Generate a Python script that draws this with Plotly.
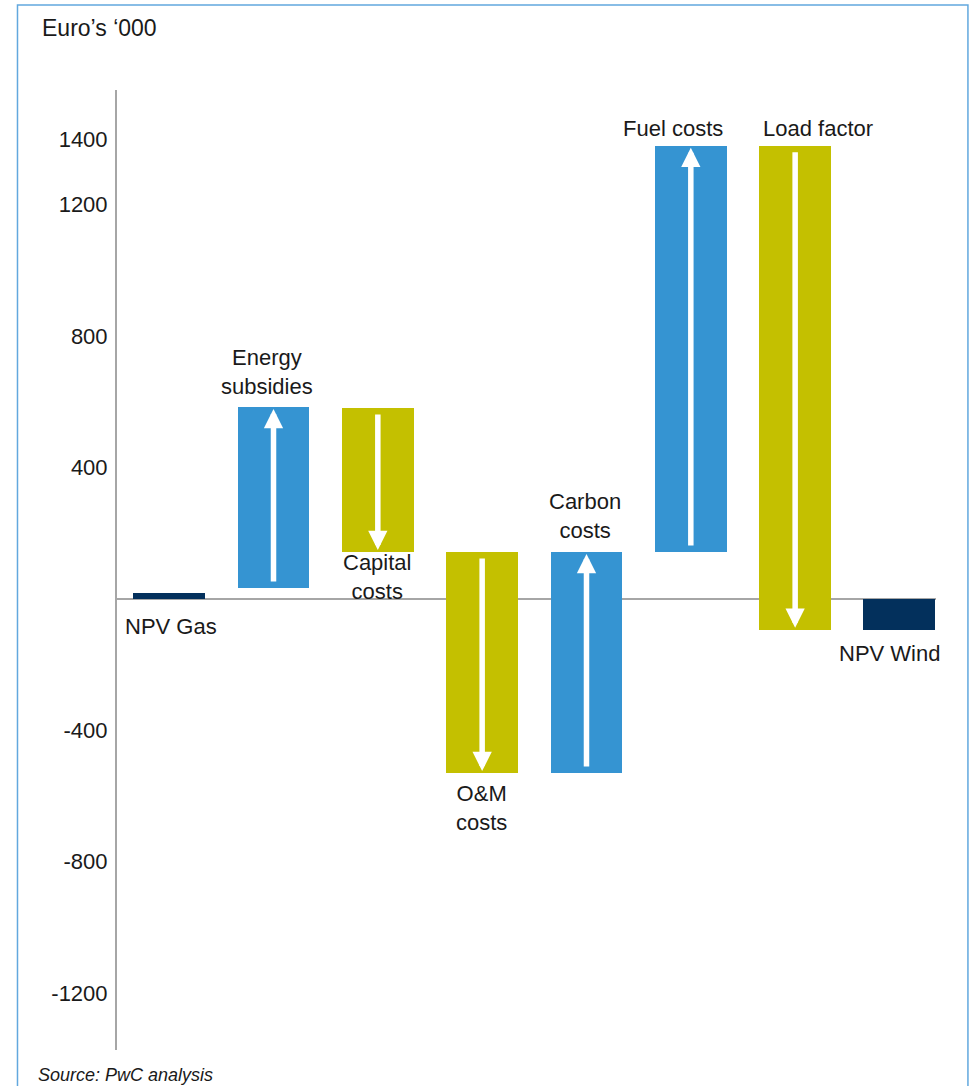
import plotly.graph_objects as go

# ---- data ----
categories = ["NPV Gas", "Energy subsidies", "Capital costs", "O&M costs",
              "Carbon costs", "Fuel costs", "Load factor", "NPV Wind"]
bar_start = [0, 33, 581, 143, -530, 143, 1379, 0]      # where each bar / arrow starts
bar_end = [18, 584, 143, -530, 143, 1379, -94, -94]    # where each bar / arrow ends
bar_kind = ["npv", "up", "down", "down", "up", "up", "down", "npv"]
tick_values = [1400, 1200, 800, 400, -400, -800, -1200]
tick_labels = ["1400", "1200", "800", "400", "-400", "-800", "-1200"]
label_texts = ["NPV Gas", "Energy<br>subsidies", "Capital<br>costs", "O&M<br>costs",
               "Carbon<br>costs", "Fuel costs", "Load factor", "NPV Wind"]

colors = {"npv": "#03305C", "up": "#3594D2", "down": "#C4C000"}
FONT = "Liberation Sans, Arial, Helvetica, sans-serif"
TXT = "#1a1a1a"

xs = list(range(len(categories)))
bases = [min(a, b) for a, b in zip(bar_start, bar_end)]
heights = [abs(b - a) for a, b in zip(bar_start, bar_end)]

fig = go.Figure()
fig.add_trace(go.Bar(
    x=xs, y=heights, base=bases, width=0.69,
    marker=dict(color=[colors[k] for k in bar_kind], line=dict(width=0)),
    hovertext=categories, showlegend=False,
))

annotations = []
# white arrows inside the change bars
for i, (s, e, k) in enumerate(zip(bar_start, bar_end, bar_kind)):
    if k == "npv":
        continue
    annotations.append(dict(
        x=i, y=e, ax=i, ay=s, xref="x", yref="y", axref="x", ayref="y",
        showarrow=True, arrowhead=2, arrowsize=0.7, arrowwidth=5.5,
        arrowcolor="white", standoff=2, startstandoff=5, text="",
    ))

# category labels
label_pos = [(0.02, -85), (0.94, 692), (1.99, 67), (2.99, -636),
             (3.99, 251), (4.83, 1431), (6.22, 1431), (6.9, -167)]
for (lx, ly), t in zip(label_pos, label_texts):
    annotations.append(dict(
        x=lx, y=ly, xref="x", yref="y", text=t, showarrow=False,
        xanchor="center", yanchor="middle", align="center",
        font=dict(family=FONT, size=22, color=TXT),
    ))

# unit label & source
annotations.append(dict(
    x=-0.094, y=1.0645, xref="paper", yref="paper", xanchor="left", yanchor="middle",
    text="Euro’s ‘000", showarrow=False, font=dict(family=FONT, size=23, color=TXT),
))
annotations.append(dict(
    x=-0.0995, y=-0.026, xref="paper", yref="paper", xanchor="left", yanchor="middle",
    text="<i>Source: PwC analysis</i>", showarrow=False,
    font=dict(family=FONT, size=18, color=TXT),
))

fig.update_layout(
    width=970, height=1086,
    margin=dict(l=117, r=34, t=90, b=36),
    paper_bgcolor="white", plot_bgcolor="white",
    bargap=0,
    annotations=annotations,
    shapes=[dict(type="rect", xref="paper", yref="paper",
                 x0=-0.1215, x1=1.039, y0=-0.06, y1=1.0885,
                 line=dict(color="#62A8DE", width=1.5), fillcolor="rgba(0,0,0,0)",
                 layer="below")],
    xaxis=dict(range=[-0.5, 7.35], showticklabels=False, showgrid=False,
               zeroline=False, showline=False, ticks=""),
    yaxis=dict(range=[-1373, 1549], tickvals=tick_values, ticktext=tick_labels,
               showgrid=False, zeroline=True, zerolinecolor="#A6A6A6", zerolinewidth=2,
               showline=True, linecolor="#A6A6A6", linewidth=2, ticks="",
               ticklabelstandoff=3,
               tickfont=dict(family=FONT, size=22, color=TXT)),
)

fig.write_html("out.html", config={"displayModeBar": False},
               post_script="document.body.style.margin='0px';")
